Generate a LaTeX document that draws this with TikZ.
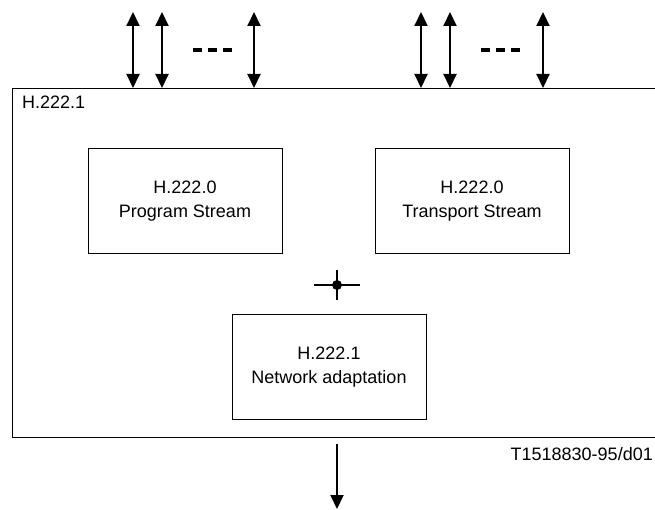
\documentclass[tikz,border=0pt]{standalone}
\usepackage{fontspec}
\setmainfont{Liberation Sans}
\usetikzlibrary{arrows.meta}

\begin{document}
\begin{tikzpicture}[x=1pt, y=-1pt, >={Triangle[length=14pt,width=13pt]},
  txt/.style={font=\fontsize{18}{24}\selectfont},
  block/.style={txt, draw, line width=1pt, minimum width=194pt, minimum height=105pt, align=center},
  port/.style={<->, line width=2pt},
  dots/.style={line width=3.5pt, dash pattern=on 9pt off 6pt}]
  \useasboundingbox (0,0) rectangle (655,510);
  % H.222.1 frame
  \node[draw, line width=1.3pt, minimum width=650pt, minimum height=349pt, anchor=north west] (frame) at (12,88) {};
  \node[txt, anchor=north west, inner sep=0pt] (title) at (22,96) {H.222.1};
  % inner blocks
  \node[block] (ps) at (185,201) {H.222.0\\Program Stream};
  \node[block] (ts) at (472,201) {H.222.0\\Transport Stream};
  \node[block] (na) at (329,367) {H.222.1\\Network adaptation};
  % junction
  \coordinate (junc) at (337,285);
  \fill (junc) circle (5pt);
  \draw[line width=1.3pt] ([xshift=-23pt]junc) -- ([xshift=23pt]junc);
  \draw[line width=1.3pt] ([yshift=15pt]junc) -- ([yshift=-15pt]junc);
  % ports on top
  \foreach \x [count=\i] in {133,162,254,421,450,543}
    \coordinate (p\i) at (\x,12);
  \foreach \i in {1,...,6}
    \draw[port] (p\i) -- (p\i |- frame.north);
  \coordinate (d1) at (193,50);
  \coordinate (d2) at (481,50);
  \draw[dots] (d1) -- ++(39,0);
  \draw[dots] (d2) -- ++(39,0);
  % output
  \coordinate (out) at (337,509);
  \draw[->, line width=2pt] ([yshift=-6pt]frame.south -| out) -- (out);
  \node[txt, anchor=north east, inner sep=0pt] (ref) at (653,447) {T1518830-95/d01};
\end{tikzpicture}
\end{document}
